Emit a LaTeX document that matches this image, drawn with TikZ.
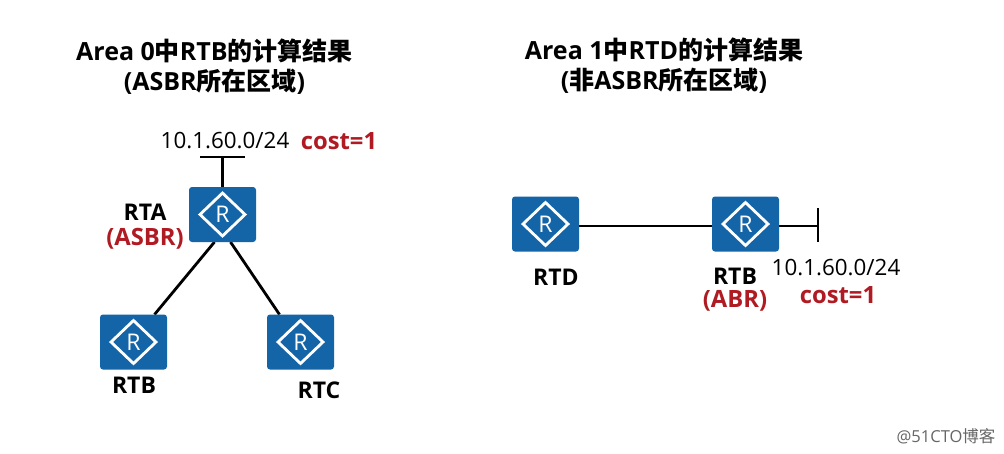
\documentclass[tikz,border=0pt]{standalone}
\usepackage{fontspec}
\setmainfont{Open Sans}
\newfontfamily\cjk{Noto Sans CJK SC}
\definecolor{routerblue}{HTML}{1464A8}
\definecolor{accentred}{HTML}{B01A22}
\tikzset{
  router/.pic={
    \fill[routerblue,rounded corners=3pt] (-33.5,-27.5) rectangle (33.5,27.5);
    \draw[white,line width=2.8pt,miter limit=10] (0,-21.5) -- (22.5,0) -- (0,21.5) -- (-22.5,0) -- cycle;
    \node[white,font=\fontsize{23}{23}\selectfont] at (0,0) {R};
  },
  routerbox/.style={minimum width=67pt,minimum height=55pt,inner sep=0pt,outer sep=0pt},
  link/.style={black,line width=2.8pt},
  headtext/.style={font=\bfseries\fontsize{25}{29}\selectfont,align=center,text=black,inner sep=0pt},
  labeltext/.style={font=\bfseries\fontsize{23}{27}\selectfont,align=center,text=black,inner sep=0pt},
  redtext/.style={labeltext,font=\bfseries\fontsize{23.8}{27}\selectfont,text=accentred},
  nettext/.style={font=\fontsize{22.4}{26}\selectfont,text=black,inner sep=0pt},
}
\begin{document}
\begin{tikzpicture}[x=1pt,y=-1pt]
\useasboundingbox (0,0) rectangle (1004,453);
\fill[white] (0,0) rectangle (1004,453);

\node[headtext] (t1a) at (214.5,51) {Area 0{\cjk\bfseries 中}RTB{\cjk\bfseries 的计算结果}};
\node[headtext] (t1b) at (214.5,82) {(ASBR{\cjk\bfseries 所在区域})};
\node[headtext] (t2a) at (664,50) {Area 1{\cjk\bfseries 中}RTD{\cjk\bfseries 的计算结果}};
\node[headtext] (t2b) at (664,81) {({\cjk\bfseries 非}ASBR{\cjk\bfseries 所在区域})};

\node[routerbox] (rta) at (222.5,214.5) {};
\node[routerbox] (rtb) at (133.5,342) {};
\node[routerbox] (rtc) at (300.5,342) {};
\node[routerbox] (rtd) at (545.5,224) {};
\node[routerbox] (rtbb) at (745.5,224) {};
\coordinate (netA) at (222.5,157);
\coordinate (netB) at (818,226);

\draw[link] (rta.north) -- (netA);
\draw[link] ([xshift=-22.5pt]netA) -- ([xshift=22.5pt]netA);
\draw[link] ([xshift=-8pt]rta.south) -- ([xshift=21pt]rtb.north);
\draw[link] ([xshift=8pt]rta.south) -- ([xshift=-21pt]rtc.north);
\draw[link] ([yshift=-2pt]rtd.east) -- ([yshift=-2pt]rtbb.west);
\draw[link] ([yshift=-2pt]rtbb.east) -- (netB);
\draw[link] ([yshift=18pt]netB) -- ([yshift=-16pt]netB);

\pic at (rta) {router};
\pic at (rtb) {router};
\pic at (rtc) {router};
\pic at (rtd) {router};
\pic at (rtbb) {router};

\node[nettext] (n1) at (225,141) {10.1.60.0/24};
\node[redtext] (c1) at (339,141) {cost=1};
\node[labeltext] (l1) at (145,212) {RTA};
\node[redtext] (l2) at (145,239) {(ASBR)};
\node[labeltext] (l3) at (134,385) {RTB};
\node[labeltext] (l4) at (319,390) {RTC};
\node[labeltext] (l5) at (556,277) {RTD};
\node[labeltext] (l6) at (735,276) {RTB};
\node[redtext] (l7) at (735,301) {(ABR)};
\node[nettext] (n2) at (836,268) {10.1.60.0/24};
\node[redtext] (c2) at (838,295) {cost=1};
\node[font=\fontsize{16.5}{18}\selectfont,text=black!60,inner sep=0pt] (wm) at (946,436) {@51CTO{\cjk 博客}};
\end{tikzpicture}
\end{document}
